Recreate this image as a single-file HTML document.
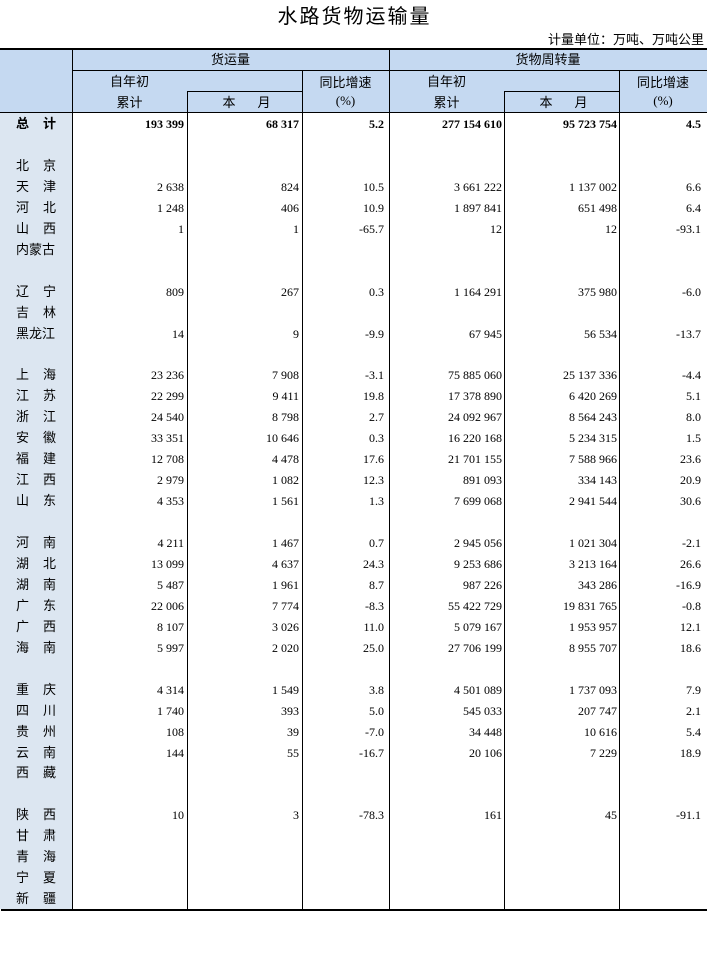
<!DOCTYPE html>
<html><head><meta charset="utf-8">
<style>
html,body{margin:0;padding:0;background:#fff;}
body{width:707px;height:955px;position:relative;overflow:hidden;font-family:"Liberation Serif","Noto Sans CJK SC",serif;color:#000;}
.a{position:absolute;}
.cj{font-family:"Liberation Sans","Noto Sans CJK SC",sans-serif;}
.hl{position:absolute;background:#000;}
.r{position:absolute;left:0;width:707px;height:21px;line-height:21px;font-size:12px;}
.r span{position:absolute;top:1px;height:21px;text-align:right;white-space:nowrap;}
.r .c1{left:72px;width:112px}
.r .c2{left:187px;width:112px}
.r .c3{left:302px;width:82px}
.r .c4{left:389px;width:113px}
.r .c5{left:504px;width:113px}
.r .c6{left:619px;width:82px}
.r b.n{position:absolute;top:0;font-weight:normal;font-family:"Liberation Sans","Noto Sans CJK SC",sans-serif;font-size:13px;line-height:21px;}
.r b.x1{left:16px}
.r b.x2{left:43px}
.r.t{font-weight:bold}
.r.t b.n{font-weight:bold}
.hd{position:absolute;text-align:center;font-size:13px;line-height:20px;font-family:"Liberation Sans","Noto Sans CJK SC",sans-serif;}
</style></head><body>
<div class="a cj" style="left:0;top:5px;width:707px;text-align:center;font-size:20px;line-height:24px;letter-spacing:2px;padding-left:2px;box-sizing:border-box;">水路货物运输量</div>
<div class="a cj" style="right:3px;top:32px;font-size:13px;line-height:16px;">计量单位：万吨、万吨公里</div>

<div class="a" style="left:0;top:48px;width:707px;height:64px;background:#c5d9f1;"></div>
<div class="a" style="left:0;top:113px;width:72px;height:796px;background:#dce6f1;"></div>

<!-- lines -->
<div class="hl" style="left:0;top:48px;width:707px;height:2px;"></div>
<div class="hl" style="left:72px;top:70px;width:635px;height:1px;"></div>
<div class="hl" style="left:187px;top:91px;width:115px;height:1px;"></div>
<div class="hl" style="left:504px;top:91px;width:115px;height:1px;"></div>
<div class="hl" style="left:0;top:112px;width:707px;height:1px;"></div>
<div class="hl" style="left:72px;top:48px;width:1px;height:861px;"></div>
<div class="hl" style="left:389px;top:48px;width:1px;height:861px;"></div>
<div class="hl" style="left:187px;top:91px;width:1px;height:818px;"></div>
<div class="hl" style="left:504px;top:91px;width:1px;height:818px;"></div>
<div class="hl" style="left:302px;top:70px;width:1px;height:839px;"></div>
<div class="hl" style="left:619px;top:70px;width:1px;height:839px;"></div>
<div class="hl" style="left:1px;top:909px;width:706px;height:2px;"></div>

<!-- header text -->
<div class="hd" style="left:72px;top:50px;width:317px;">货运量</div>
<div class="hd" style="left:389px;top:50px;width:318px;">货物周转量</div>
<div class="hd" style="left:72px;top:72px;width:115px;">自年初</div>
<div class="hd" style="left:72px;top:93px;width:115px;">累计</div>
<div class="hd" style="left:389px;top:72px;width:115px;">自年初</div>
<div class="hd" style="left:389px;top:93px;width:115px;">累计</div>
<div class="hd" style="left:222px;top:93px;width:14px;">本</div>
<div class="hd" style="left:257px;top:93px;width:14px;">月</div>
<div class="hd" style="left:539px;top:93px;width:14px;">本</div>
<div class="hd" style="left:574px;top:93px;width:14px;">月</div>
<div class="hd" style="left:302px;top:73px;width:87px;">同比增速</div>
<div class="hd" style="left:302px;top:91px;width:87px;font-family:'Liberation Serif',serif;">(%)</div>
<div class="hd" style="left:619px;top:73px;width:88px;">同比增速</div>
<div class="hd" style="left:619px;top:91px;width:88px;font-family:'Liberation Serif',serif;">(%)</div>

<!-- rows -->
<div class="r t" style="top:113px"><b class="n x1">总</b><b class="n x2">计</b><span class="c1">193 399</span><span class="c2">68 317</span><span class="c3">5.2</span><span class="c4">277 154 610</span><span class="c5">95 723 754</span><span class="c6">4.5</span></div>
<div class="r" style="top:154.9px"><b class="n x1">北</b><b class="n x2">京</b></div>
<div class="r" style="top:175.85px"><b class="n x1">天</b><b class="n x2">津</b><span class="c1">2 638</span><span class="c2">824</span><span class="c3">10.5</span><span class="c4">3 661 222</span><span class="c5">1 137 002</span><span class="c6">6.6</span></div>
<div class="r" style="top:196.8px"><b class="n x1">河</b><b class="n x2">北</b><span class="c1">1 248</span><span class="c2">406</span><span class="c3">10.9</span><span class="c4">1 897 841</span><span class="c5">651 498</span><span class="c6">6.4</span></div>
<div class="r" style="top:217.75px"><b class="n x1">山</b><b class="n x2">西</b><span class="c1">1</span><span class="c2">1</span><span class="c3">-65.7</span><span class="c4">12</span><span class="c5">12</span><span class="c6">-93.1</span></div>
<div class="r" style="top:238.7px"><b class="n x1">内蒙古</b></div>
<div class="r" style="top:280.6px"><b class="n x1">辽</b><b class="n x2">宁</b><span class="c1">809</span><span class="c2">267</span><span class="c3">0.3</span><span class="c4">1 164 291</span><span class="c5">375 980</span><span class="c6">-6.0</span></div>
<div class="r" style="top:301.55px"><b class="n x1">吉</b><b class="n x2">林</b></div>
<div class="r" style="top:322.5px"><b class="n x1">黑龙江</b><span class="c1">14</span><span class="c2">9</span><span class="c3">-9.9</span><span class="c4">67 945</span><span class="c5">56 534</span><span class="c6">-13.7</span></div>
<div class="r" style="top:364.4px"><b class="n x1">上</b><b class="n x2">海</b><span class="c1">23 236</span><span class="c2">7 908</span><span class="c3">-3.1</span><span class="c4">75 885 060</span><span class="c5">25 137 336</span><span class="c6">-4.4</span></div>
<div class="r" style="top:385.35px"><b class="n x1">江</b><b class="n x2">苏</b><span class="c1">22 299</span><span class="c2">9 411</span><span class="c3">19.8</span><span class="c4">17 378 890</span><span class="c5">6 420 269</span><span class="c6">5.1</span></div>
<div class="r" style="top:406.3px"><b class="n x1">浙</b><b class="n x2">江</b><span class="c1">24 540</span><span class="c2">8 798</span><span class="c3">2.7</span><span class="c4">24 092 967</span><span class="c5">8 564 243</span><span class="c6">8.0</span></div>
<div class="r" style="top:427.25px"><b class="n x1">安</b><b class="n x2">徽</b><span class="c1">33 351</span><span class="c2">10 646</span><span class="c3">0.3</span><span class="c4">16 220 168</span><span class="c5">5 234 315</span><span class="c6">1.5</span></div>
<div class="r" style="top:448.2px"><b class="n x1">福</b><b class="n x2">建</b><span class="c1">12 708</span><span class="c2">4 478</span><span class="c3">17.6</span><span class="c4">21 701 155</span><span class="c5">7 588 966</span><span class="c6">23.6</span></div>
<div class="r" style="top:469.15px"><b class="n x1">江</b><b class="n x2">西</b><span class="c1">2 979</span><span class="c2">1 082</span><span class="c3">12.3</span><span class="c4">891 093</span><span class="c5">334 143</span><span class="c6">20.9</span></div>
<div class="r" style="top:490.1px"><b class="n x1">山</b><b class="n x2">东</b><span class="c1">4 353</span><span class="c2">1 561</span><span class="c3">1.3</span><span class="c4">7 699 068</span><span class="c5">2 941 544</span><span class="c6">30.6</span></div>
<div class="r" style="top:532px"><b class="n x1">河</b><b class="n x2">南</b><span class="c1">4 211</span><span class="c2">1 467</span><span class="c3">0.7</span><span class="c4">2 945 056</span><span class="c5">1 021 304</span><span class="c6">-2.1</span></div>
<div class="r" style="top:552.95px"><b class="n x1">湖</b><b class="n x2">北</b><span class="c1">13 099</span><span class="c2">4 637</span><span class="c3">24.3</span><span class="c4">9 253 686</span><span class="c5">3 213 164</span><span class="c6">26.6</span></div>
<div class="r" style="top:573.9px"><b class="n x1">湖</b><b class="n x2">南</b><span class="c1">5 487</span><span class="c2">1 961</span><span class="c3">8.7</span><span class="c4">987 226</span><span class="c5">343 286</span><span class="c6">-16.9</span></div>
<div class="r" style="top:594.85px"><b class="n x1">广</b><b class="n x2">东</b><span class="c1">22 006</span><span class="c2">7 774</span><span class="c3">-8.3</span><span class="c4">55 422 729</span><span class="c5">19 831 765</span><span class="c6">-0.8</span></div>
<div class="r" style="top:615.8px"><b class="n x1">广</b><b class="n x2">西</b><span class="c1">8 107</span><span class="c2">3 026</span><span class="c3">11.0</span><span class="c4">5 079 167</span><span class="c5">1 953 957</span><span class="c6">12.1</span></div>
<div class="r" style="top:636.75px"><b class="n x1">海</b><b class="n x2">南</b><span class="c1">5 997</span><span class="c2">2 020</span><span class="c3">25.0</span><span class="c4">27 706 199</span><span class="c5">8 955 707</span><span class="c6">18.6</span></div>
<div class="r" style="top:678.65px"><b class="n x1">重</b><b class="n x2">庆</b><span class="c1">4 314</span><span class="c2">1 549</span><span class="c3">3.8</span><span class="c4">4 501 089</span><span class="c5">1 737 093</span><span class="c6">7.9</span></div>
<div class="r" style="top:699.6px"><b class="n x1">四</b><b class="n x2">川</b><span class="c1">1 740</span><span class="c2">393</span><span class="c3">5.0</span><span class="c4">545 033</span><span class="c5">207 747</span><span class="c6">2.1</span></div>
<div class="r" style="top:720.55px"><b class="n x1">贵</b><b class="n x2">州</b><span class="c1">108</span><span class="c2">39</span><span class="c3">-7.0</span><span class="c4">34 448</span><span class="c5">10 616</span><span class="c6">5.4</span></div>
<div class="r" style="top:741.5px"><b class="n x1">云</b><b class="n x2">南</b><span class="c1">144</span><span class="c2">55</span><span class="c3">-16.7</span><span class="c4">20 106</span><span class="c5">7 229</span><span class="c6">18.9</span></div>
<div class="r" style="top:762.45px"><b class="n x1">西</b><b class="n x2">藏</b></div>
<div class="r" style="top:804.35px"><b class="n x1">陕</b><b class="n x2">西</b><span class="c1">10</span><span class="c2">3</span><span class="c3">-78.3</span><span class="c4">161</span><span class="c5">45</span><span class="c6">-91.1</span></div>
<div class="r" style="top:825.3px"><b class="n x1">甘</b><b class="n x2">肃</b></div>
<div class="r" style="top:846.25px"><b class="n x1">青</b><b class="n x2">海</b></div>
<div class="r" style="top:867.2px"><b class="n x1">宁</b><b class="n x2">夏</b></div>
<div class="r" style="top:888.15px"><b class="n x1">新</b><b class="n x2">疆</b></div>
</body></html>
